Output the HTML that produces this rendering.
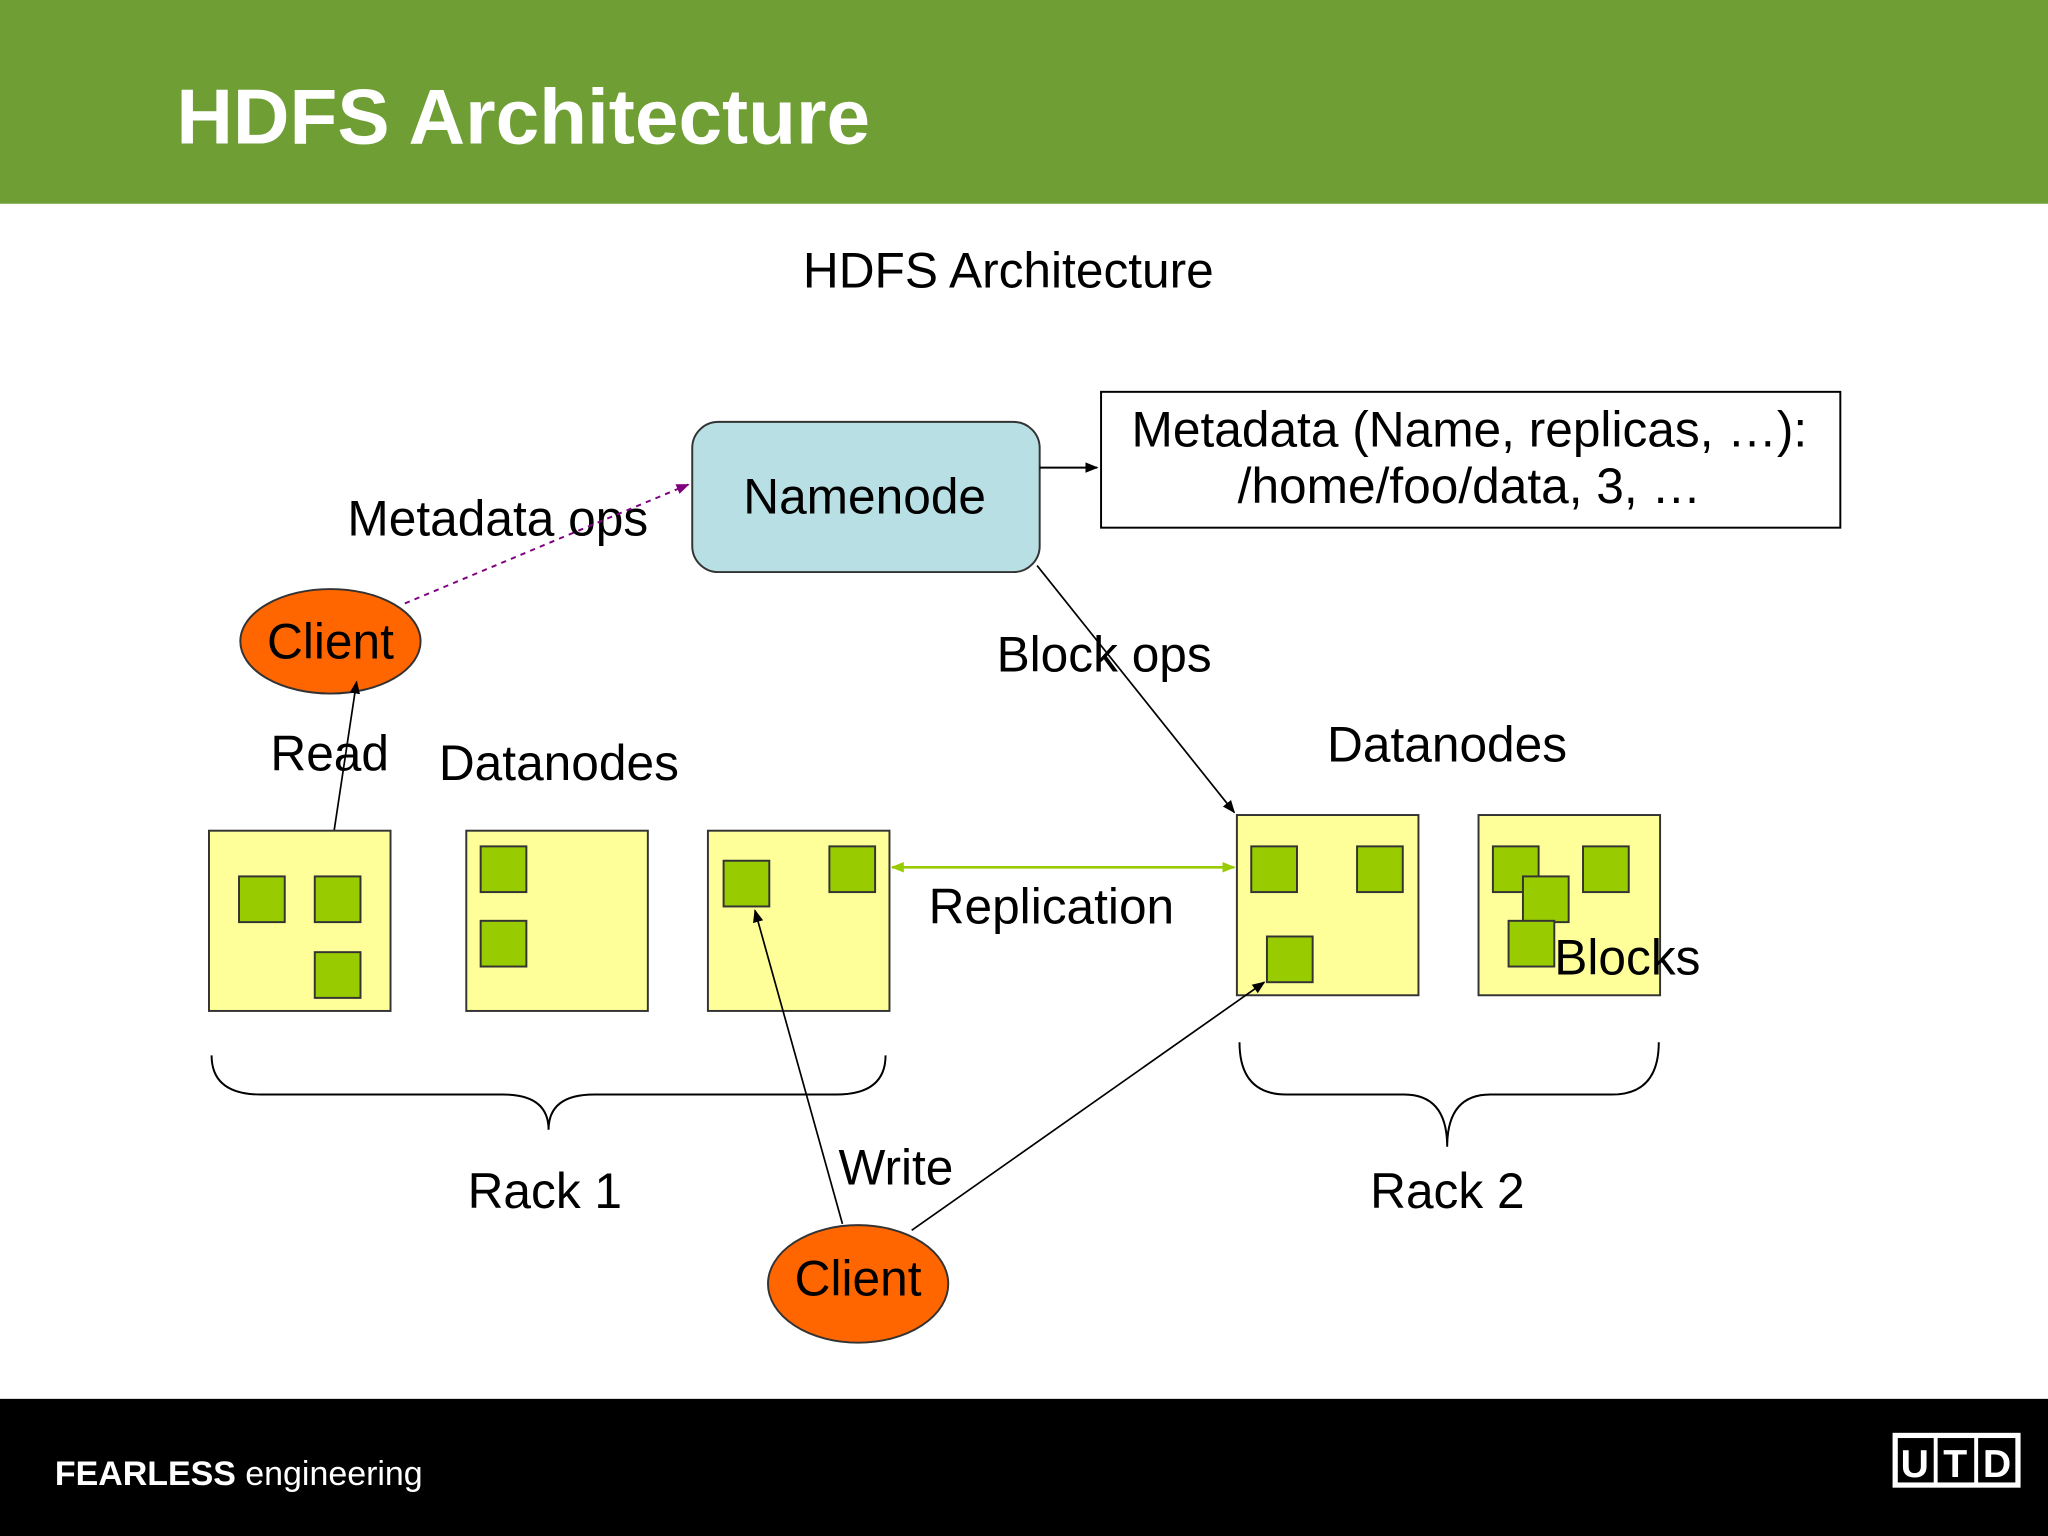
<!DOCTYPE html>
<html><head><meta charset="utf-8"><style>
html,body{margin:0;padding:0;background:#fff;}
svg{display:block;}
text{font-family:"Liberation Sans",Arial,sans-serif;}
</style></head><body>
<svg width="2048" height="1536" viewBox="0 0 1568 1176" xmlns="http://www.w3.org/2000/svg">
<defs>
<marker id="a" markerWidth="10" markerHeight="10" refX="9" refY="5" orient="auto" markerUnits="userSpaceOnUse"><path d="M0,1 L10,5 L0,9 z" fill="#000"/></marker>
<marker id="p" markerWidth="10" markerHeight="10" refX="9" refY="5" orient="auto" markerUnits="userSpaceOnUse"><path d="M0,1 L10,5 L0,9 z" fill="#800080"/></marker>
<marker id="g" markerWidth="10" markerHeight="10" refX="9" refY="5" orient="auto-start-reverse" markerUnits="userSpaceOnUse"><path d="M0,1 L10,5 L0,9 z" fill="#99cc00"/></marker>
</defs>
<rect x="0" y="0" width="1568" height="156" fill="#6e9e34"/>
<text x="135" y="110" font-size="60" font-weight="bold" fill="#fff">HDFS Architecture</text>
<rect x="0" y="1071" width="1568" height="105" fill="#000"/>
<text x="42" y="1137" font-size="26" fill="#fff"><tspan font-weight="bold">FEARLESS</tspan> engineering</text>
<rect x="1451" y="1099" width="94" height="38" fill="none" stroke="#fff" stroke-width="4"/>
<line x1="1482" y1="1101" x2="1482" y2="1135" stroke="#fff" stroke-width="3"/>
<line x1="1513" y1="1101" x2="1513" y2="1135" stroke="#fff" stroke-width="3"/>
<text x="1466" y="1131" font-size="30" font-weight="bold" fill="#fff" text-anchor="middle">U</text>
<text x="1497" y="1131" font-size="30" font-weight="bold" fill="#fff" text-anchor="middle">T</text>
<text x="1529" y="1131" font-size="30" font-weight="bold" fill="#fff" text-anchor="middle">D</text>

<text x="772" y="220" font-size="38" text-anchor="middle">HDFS Architecture</text>

<rect x="530" y="323" width="266" height="115" rx="20" fill="#b8dfe3" stroke="#333" stroke-width="1.5"/>
<text x="662" y="393" font-size="38" text-anchor="middle">Namenode</text>
<rect x="843" y="300" width="566" height="104" fill="#fff" stroke="#000" stroke-width="1.5"/>
<text x="1125" y="342" font-size="38" text-anchor="middle">Metadata (Name, replicas, …):</text>
<text x="1125" y="385" font-size="38" text-anchor="middle">/home/foo/data, 3, …</text>
<line x1="796" y1="358" x2="840" y2="358" stroke="#000" stroke-width="1.5" marker-end="url(#a)"/>

<text x="266" y="410" font-size="38">Metadata ops</text>
<line x1="310" y1="462" x2="527" y2="371" stroke="#800080" stroke-width="1.5" stroke-dasharray="4,4" marker-end="url(#p)"/>

<ellipse cx="253" cy="491" rx="69" ry="40" fill="#ff6600" stroke="#333" stroke-width="1.5"/>
<text x="253" y="504" font-size="38" text-anchor="middle">Client</text>
<text x="207" y="590" font-size="38">Read</text>
<line x1="254" y1="648" x2="273" y2="522" stroke="#000" stroke-width="1.3" marker-end="url(#a)"/>
<text x="336" y="597" font-size="38">Datanodes</text>

<g fill="#ffff99" stroke="#333" stroke-width="1.5">
<rect x="160" y="636" width="139" height="138"/>
<rect x="357" y="636" width="139" height="138"/>
<rect x="542" y="636" width="139" height="138"/>
<rect x="947" y="624" width="139" height="138"/>
<rect x="1132" y="624" width="139" height="138"/>
</g>
<g fill="#99cc00" stroke="#333" stroke-width="1.5">
<rect x="183" y="671" width="35" height="35"/><rect x="241" y="671" width="35" height="35"/><rect x="241" y="729" width="35" height="35"/>
<rect x="368" y="648" width="35" height="35"/><rect x="368" y="705" width="35" height="35"/>
<rect x="554" y="659" width="35" height="35"/><rect x="635" y="648" width="35" height="35"/>
<rect x="958" y="648" width="35" height="35"/><rect x="1039" y="648" width="35" height="35"/><rect x="970" y="717" width="35" height="35"/>
<rect x="1143" y="648" width="35" height="35"/><rect x="1212" y="648" width="35" height="35"/><rect x="1166" y="671" width="35" height="35"/><rect x="1155" y="705" width="35" height="35"/>
</g>

<line x1="683" y1="664" x2="945" y2="664" stroke="#99cc00" stroke-width="2" marker-start="url(#g)" marker-end="url(#g)"/>
<text x="711" y="707" font-size="38">Replication</text>
<text x="763" y="514" font-size="38">Block ops</text>
<line x1="794" y1="433" x2="945" y2="622" stroke="#000" stroke-width="1.3" marker-end="url(#a)"/>
<text x="1016" y="583" font-size="38">Datanodes</text>
<text x="1190" y="746" font-size="38">Blocks</text>

<path d="M162,808 Q162,838 200,838 L385,838 Q420,838 420,865 Q420,838 455,838 L640,838 Q678,838 678,808" fill="none" stroke="#000" stroke-width="1.5"/>
<path d="M949,798 Q949,838 985,838 L1075,838 Q1108,838 1108,878 Q1108,838 1141,838 L1234,838 Q1270,838 1270,798" fill="none" stroke="#000" stroke-width="1.5"/>
<text x="358" y="925" font-size="38">Rack 1</text>
<text x="1049" y="925" font-size="38">Rack 2</text>
<text x="642" y="907" font-size="38">Write</text>

<line x1="645" y1="937" x2="578" y2="697" stroke="#000" stroke-width="1.3" marker-end="url(#a)"/>
<line x1="698" y1="942" x2="968" y2="752" stroke="#000" stroke-width="1.3" marker-end="url(#a)"/>
<ellipse cx="657" cy="983" rx="69" ry="45" fill="#ff6600" stroke="#333" stroke-width="1.5"/>
<text x="657" y="992" font-size="38" text-anchor="middle">Client</text>
</svg>
</body></html>
